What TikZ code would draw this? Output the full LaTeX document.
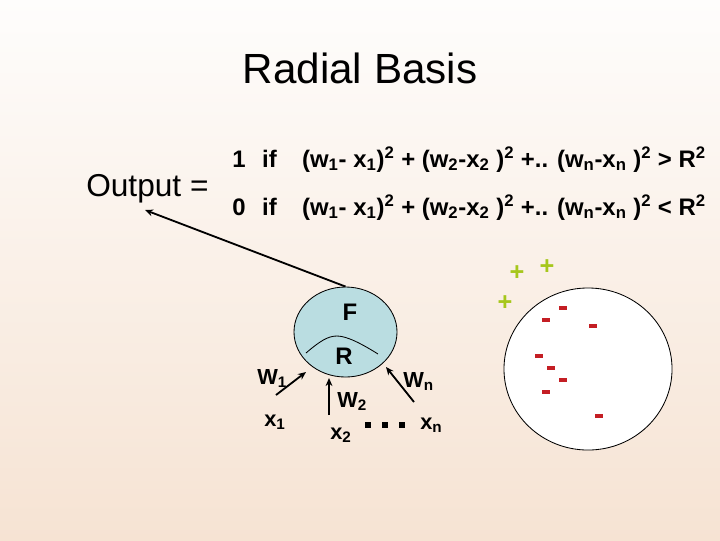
\documentclass[tikz,border=0pt]{standalone}
\usepackage{fontspec}
\setmainfont{Liberation Sans}
\usetikzlibrary{arrows.meta, shapes.geometric}
\definecolor{bgtop}{HTML}{FEFDFC}
\definecolor{bgbot}{HTML}{F6E3D3}
\definecolor{cellblue}{HTML}{BADDE1}
\definecolor{posgreen}{HTML}{A6C71C}
\definecolor{negred}{HTML}{C41E24}
\newcommand{\distsum}{(w\textsubscript{1}- x\textsubscript{1})\textsuperscript{2} + (w\textsubscript{2}-x\textsubscript{2} )\textsuperscript{2} +.. (w\textsubscript{n}-x\textsubscript{n} )\textsuperscript{2}}

\begin{document}
\begin{tikzpicture}[x=0.025cm, y=-0.025cm, >={Stealth[length=2mm, width=1.7mm]},
  lbl/.style={anchor=base west, inner sep=0pt, font=\fontsize{15.5}{18}\selectfont\bfseries},
  eqn/.style={anchor=base west, inner sep=0pt, font=\fontsize{17}{20}\selectfont\bfseries},
  wire/.style={->, line width=1.3pt},
  plussign/.style={inner sep=0pt, text=posgreen, font=\fontsize{18}{20}\selectfont\bfseries},
  minussign/.style={inner sep=0pt, fill=negred, minimum width=0.18cm, minimum height=0.085cm},
  dotsq/.style={inner sep=0pt, fill=black, minimum size=0.13cm}]
% background
\fill[top color=bgtop, bottom color=bgbot] (0,0) rectangle (720,540);
\useasboundingbox (0,0) rectangle (720,540);
% heading and rule
\node[anchor=base, inner sep=0pt, font=\fontsize{30}{36}\selectfont] (title) at (360,83) {Radial Basis};
\node[anchor=base west, inner sep=0pt, font=\fontsize{22.5}{27}\selectfont] (output) at (86,196) {Output =};
\node[eqn] (one)  at (232,167) {\makebox[21.3pt][l]{1}\makebox[28.4pt][l]{if}\distsum{} > R\textsuperscript{2}};
\node[eqn] (zero) at (232,215) {\makebox[21.3pt][l]{0}\makebox[28.4pt][l]{if}\distsum{} < R\textsuperscript{2}};
% the unit
\node[ellipse, draw, line width=0.6pt, fill=cellblue, minimum width=2.575cm, minimum height=2.25cm, inner sep=0pt] (F) at (345.5,332) {};
\draw[line width=0.6pt] (306,353) .. controls (320,341) and (328,336) .. (337,336) .. controls (347,336) and (362,344) .. (378,354);
\node[inner sep=0pt, font=\fontsize{17}{20}\selectfont\bfseries] (flab) at (350,312) {F};
\node[inner sep=0pt, font=\fontsize{17}{20}\selectfont\bfseries] (rlab) at (344,356) {R};
\coordinate (outtip) at (145,210);
\draw[wire] (F.north) -- (outtip);
% inputs
\coordinate (in1) at (276,395); \coordinate (tip1) at (306,372);
\coordinate (in2) at (329,415); \coordinate (tip2) at (329,378);
\coordinate (inn) at (414,402); \coordinate (tipn) at (386,367);
\foreach \k in {1,2,n} \draw[wire] (in\k) -- (tip\k);
\node[lbl] (w1) at (257,384) {W\textsubscript{1}};
\node[lbl] (w2) at (337,407) {W\textsubscript{2}};
\node[lbl] (wn) at (403,387) {W\textsubscript{n}};
\node[lbl] (x1) at (264,426) {x\textsubscript{1}};
\node[lbl] (x2) at (330,439) {x\textsubscript{2}};
\node[lbl] (xn) at (420,429) {x\textsubscript{n}};
\foreach \i/\x in {1/368,2/385,3/402} \node[dotsq] (d\i) at (\x,425) {};
% decision region
\node[ellipse, draw, line width=0.6pt, fill=white, minimum width=4.2cm, minimum height=4.05cm, inner sep=0pt] (region) at (588,369) {};
\foreach \i/\x/\y in {1/517/273, 2/547/267, 3/505/303} \node[plussign] (p\i) at (\x,\y) {+};
\foreach \i/\x/\y in {1/563/308, 2/546/320, 3/593/326, 4/539/356, 5/551/368, 6/563/380, 7/546/392, 8/599/416}
  \node[minussign] (m\i) at (\x,\y) {};
\end{tikzpicture}
\end{document}
